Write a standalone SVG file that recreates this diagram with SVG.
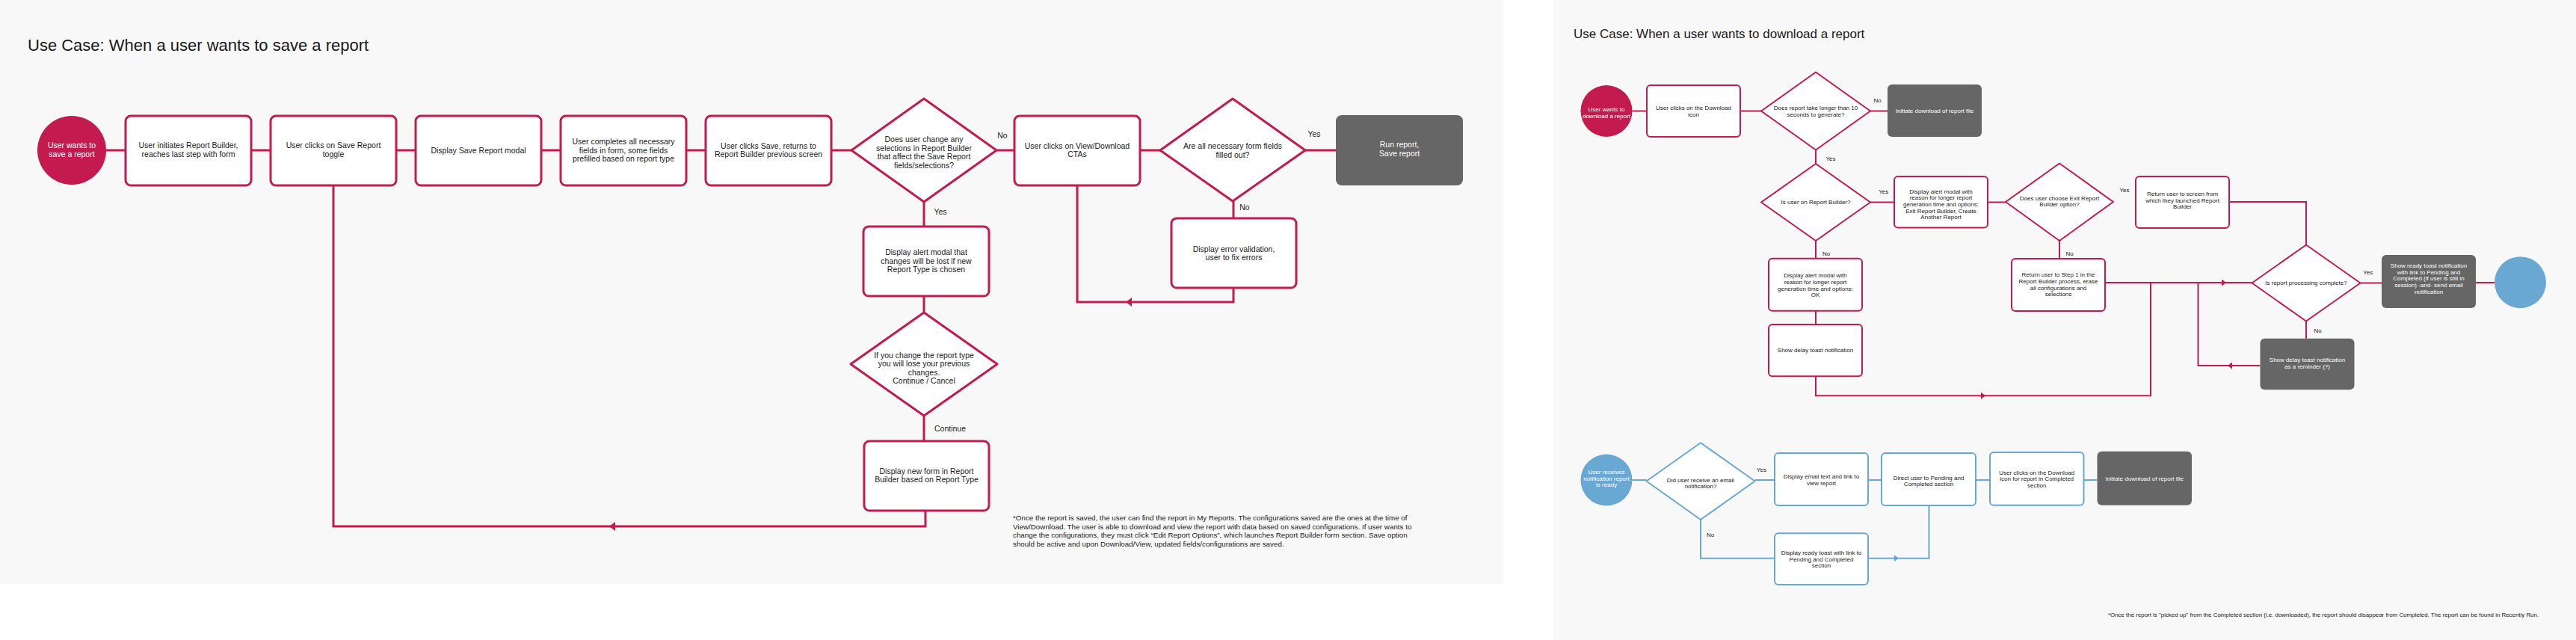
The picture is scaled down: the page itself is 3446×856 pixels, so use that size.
<svg xmlns="http://www.w3.org/2000/svg" width="3446" height="856" viewBox="0 0 3446 856">
<style>
text{font-family:"Liberation Sans",Arial,sans-serif;fill:#1a1a1a}
.t{font-size:10.5px;text-anchor:middle}
.tw{font-size:10.5px;text-anchor:middle;fill:#ffffff}
.lb{font-size:10.5px;text-anchor:middle}
.s{font-size:8px;text-anchor:middle}
.sw{font-size:8px;text-anchor:middle;fill:#ffffff}
.sl{font-size:8px;text-anchor:middle}
.bx{fill:#ffffff;stroke:#C31A4F;stroke-width:3}
.dm{fill:#ffffff;stroke:#C31A4F;stroke-width:3;stroke-linejoin:round}
.gy{fill:#666666}
.bx2{fill:#ffffff;stroke:#C31A4F;stroke-width:2}
.dm2{fill:#ffffff;stroke:#C31A4F;stroke-width:2;stroke-linejoin:round}
.bb{fill:#ffffff;stroke:#6AA8D4;stroke-width:2}
.db{fill:#ffffff;stroke:#6AA8D4;stroke-width:2;stroke-linejoin:round}
.cl{fill:none;stroke:#C31A4F;stroke-width:3}
.cr{fill:none;stroke:#C31A4F;stroke-width:2}
.cb{fill:none;stroke:#6AA8D4;stroke-width:2}
</style>
<defs>
<marker id="al" viewBox="0 0 8 12" refX="8" refY="6" markerWidth="8" markerHeight="12" markerUnits="userSpaceOnUse" orient="auto"><path d="M0,0 L8,6 L0,12 z" fill="#C31A4F"/></marker>
<marker id="ar" viewBox="0 0 8 12" refX="8" refY="6" markerWidth="6" markerHeight="9" markerUnits="userSpaceOnUse" orient="auto"><path d="M0,0 L8,6 L0,12 z" fill="#C31A4F"/></marker>
<marker id="ab" viewBox="0 0 8 12" refX="8" refY="6" markerWidth="6" markerHeight="9" markerUnits="userSpaceOnUse" orient="auto"><path d="M0,0 L8,6 L0,12 z" fill="#6AA8D4"/></marker>
</defs>
<rect x="0" y="0" width="3446" height="856" fill="#ffffff"/>
<rect x="0" y="0" width="2011" height="781" fill="#F8F8F8"/>
<rect x="2078" y="0" width="1368" height="856" fill="#F8F8F8"/>

<text x="37" y="68" style="font-size:22px">Use Case: When a user wants to save a report</text>
<text x="2105" y="51" style="font-size:17px">Use Case: When a user wants to download a report</text>

<g id="connectors">
<path class="cl" d="M142,201 H168"/>
<path class="cl" d="M336,201 H362"/>
<path class="cl" d="M530,201 H556"/>
<path class="cl" d="M724,201 H750"/>
<path class="cl" d="M918,201 H944"/>
<path class="cl" d="M1112,201 H1139"/>
<path class="cl" d="M1333,201 H1357"/>
<path class="cl" d="M1525,201 H1552"/>
<path class="cl" d="M1746,201 H1787"/>
<path class="cl" d="M1236,270 V303"/>
<path class="cl" d="M1236,396 V418"/>
<path class="cl" d="M1236,556 V590"/>
<path class="cl" d="M1238,683 V704 H815" marker-end="url(#al)"/>
<path class="cl" d="M815,704 H446 V248"/>
<path class="cl" d="M1650,269 V292"/>
<path class="cl" d="M1650,385 V404 H1506" marker-end="url(#al)"/>
<path class="cl" d="M1506,404 H1441 V248"/>

<path class="cr" d="M2183.5,148.5 H2203"/>
<path class="cr" d="M2328,148.5 H2356"/>
<path class="cr" d="M2502,148.5 H2525"/>
<path class="cr" d="M2429,200.5 V219"/>
<path class="cr" d="M2502,270.5 H2534"/>
<path class="cr" d="M2659,270.5 H2683"/>
<path class="cr" d="M2982,270 H3085 V327.5"/>
<path class="cr" d="M2429,322 V345.7"/>
<path class="cr" d="M2429,415.7 V434"/>
<path class="cr" d="M2429,503.3 V529.3 H2656" marker-end="url(#ar)"/>
<path class="cr" d="M2656,529.3 H2877 V378"/>
<path class="cr" d="M2755,322 V346"/>
<path class="cr" d="M2816,378 H2978" marker-end="url(#ar)"/>
<path class="cr" d="M2978,378 H3012.5"/>
<path class="cr" d="M3023.5,489 H2980" marker-end="url(#ar)"/>
<path class="cr" d="M2980,489 H2940.5 V378"/>
<path class="cr" d="M3085,429.5 V452.7"/>
<path class="cr" d="M3157.5,378.5 H3186"/>
<path class="cr" d="M3312,378 H3337"/>

<path class="cb" d="M2183.5,642 H2202.5"/>
<path class="cb" d="M2347.5,642 H2374"/>
<path class="cb" d="M2499,642 H2517"/>
<path class="cb" d="M2643,642 H2662"/>
<path class="cb" d="M2787.5,642 H2805.5"/>
<path class="cb" d="M2275,695 V746.7 H2374"/>
<path class="cb" d="M2499,746.7 H2540" marker-end="url(#ab)"/>
<path class="cb" d="M2540,746.7 H2580.5 V676"/>
</g>

<g id="labels">
<text class="lb" x="1341" y="185">No</text>
<text class="lb" x="1258" y="287">Yes</text>
<text class="lb" x="1758" y="183">Yes</text>
<text class="lb" x="1665" y="281">No</text>
<text x="1250" y="577" style="font-size:10.5px">Continue</text>
<text class="sl" x="2511.7" y="137">No</text>
<text class="sl" x="2449" y="215">Yes</text>
<text class="sl" x="2519.8" y="259">Yes</text>
<text class="sl" x="2842" y="257">Yes</text>
<text class="sl" x="2443" y="341.5">No</text>
<text class="sl" x="2768.5" y="341.5">No</text>
<text class="sl" x="3100.6" y="445">No</text>
<text class="sl" x="3167.7" y="367">Yes</text>
<text class="sl" x="2356.4" y="631">Yes</text>
<text class="sl" x="2288" y="717.6">No</text>
</g>

<g id="start-save">
<circle cx="96" cy="201" r="46" fill="#C31A4F"/>
<text class="tw" x="96" y="197.5">User wants to</text>
<text class="tw" x="96" y="209.5">save a report</text>
</g>
<g id="initiate-builder">
<rect class="bx" x="168" y="155" width="168" height="93" rx="7"/>
<text class="t" x="252" y="198">User initiates Report Builder,</text>
<text class="t" x="252" y="209.7">reaches last step with form</text>
</g>
<g id="save-toggle">
<rect class="bx" x="362" y="155" width="168" height="93" rx="7"/>
<text class="t" x="446" y="198">User clicks on Save Report</text>
<text class="t" x="446" y="209.7">toggle</text>
</g>
<g id="save-modal">
<rect class="bx" x="556" y="155" width="168" height="93" rx="7"/>
<text class="t" x="640" y="204.5">Display Save Report modal</text>
</g>
<g id="complete-fields">
<rect class="bx" x="750" y="155" width="168" height="93" rx="7"/>
<text class="t" x="834" y="192.8">User completes all necessary</text>
<text class="t" x="834" y="204.5">fields in form, some fields</text>
<text class="t" x="834" y="216.2">prefilled based on report type</text>
</g>
<g id="click-save">
<rect class="bx" x="944" y="155" width="168" height="93" rx="7"/>
<text class="t" x="1028" y="198.5">User clicks Save, returns to</text>
<text class="t" x="1028" y="210">Report Builder previous screen</text>
</g>
<g id="change-selections">
<polygon class="dm" points="1236,132 1333,201 1236,270 1139,201"/>
<text class="t" x="1236" y="189.8">Does user change any</text>
<text class="t" x="1236" y="201.5">selections in Report Builder</text>
<text class="t" x="1236" y="213.2">that affect the Save Report</text>
<text class="t" x="1236" y="224.8">fields/selections?</text>
</g>
<g id="alert-modal">
<rect class="bx" x="1155" y="303" width="168" height="93" rx="7"/>
<text class="t" x="1239" y="340.8">Display alert modal that</text>
<text class="t" x="1239" y="352.5">changes will be lost if new</text>
<text class="t" x="1239" y="364">Report Type is chosen</text>
</g>
<g id="change-type">
<polygon class="dm" points="1236,418 1334,487 1236,556 1138,487"/>
<text class="t" x="1236" y="478.5">If you change the report type</text>
<text class="t" x="1236" y="490">you will lose your previous</text>
<text class="t" x="1236" y="501.7">changes.</text>
<text class="t" x="1236" y="513">Continue / Cancel</text>
</g>
<g id="new-form">
<rect class="bx" x="1156" y="590" width="167" height="93" rx="7"/>
<text class="t" x="1239.5" y="633.5">Display new form in Report</text>
<text class="t" x="1239.5" y="645">Builder based on Report Type</text>
</g>
<g id="view-download">
<rect class="bx" x="1357" y="155" width="168" height="93" rx="7"/>
<text class="t" x="1441" y="198.5">User clicks on View/Download</text>
<text class="t" x="1441" y="210">CTAs</text>
</g>
<g id="fields-filled">
<polygon class="dm" points="1649,132 1746,201 1649,269 1552,201"/>
<text class="t" x="1649" y="199">Are all necessary form fields</text>
<text class="t" x="1649" y="210.8">filled out?</text>
</g>
<g id="error-validation">
<rect class="bx" x="1567" y="292" width="167" height="93" rx="7"/>
<text class="t" x="1650.5" y="336.5">Display error validation,</text>
<text class="t" x="1650.5" y="348">user to fix errors</text>
</g>
<g id="run-save">
<rect class="gy" x="1787" y="154" width="170" height="94" rx="8"/>
<text class="tw" x="1872" y="196.8">Run report,</text>
<text class="tw" x="1872" y="208.8">Save report</text>
</g>
<g id="note-save">
<text x="1355" y="696" style="font-size:9.8px">*Once the report is saved, the user can find the report in My Reports. The configurations saved are the ones at the time of</text>
<text x="1355" y="707.7" style="font-size:9.8px">View/Download. The user is able to download and view the report with data based on saved configurations. If user wants to</text>
<text x="1355" y="719.4" style="font-size:9.8px">change the configurations, they must click “Edit Report Options”, which launches Report Builder form section. Save option</text>
<text x="1355" y="731.1" style="font-size:9.8px">should be active and upon Download/View, updated fields/configurations are saved.</text>
</g>

<g id="start-download">
<circle cx="2149" cy="148.5" r="34.5" fill="#C31A4F"/>
<text class="sw" x="2149" y="148.9">User wants to</text>
<text class="sw" x="2149" y="157.6">download a report</text>
</g>
<g id="click-download">
<rect class="bx2" x="2203" y="114" width="125" height="69" rx="5"/>
<text class="s" x="2265.5" y="147.2">User clicks on the Download</text>
<text class="s" x="2265.5" y="156.2">icon</text>
</g>
<g id="longer-10s">
<polygon class="dm2" points="2429,96.5 2502,148.5 2429,200.5 2356,148.5"/>
<text class="s" x="2429" y="147.2">Does report take longer than 10</text>
<text class="s" x="2429" y="156.2">seconds to generate?</text>
</g>
<g id="initiate-download-1">
<rect class="gy" x="2525" y="113" width="126" height="70" rx="6"/>
<text class="sw" x="2588" y="151">Initiate download of report file</text>
</g>
<g id="on-builder">
<polygon class="dm2" points="2429,219 2502,270.5 2429,322 2356,270.5"/>
<text class="s" x="2429" y="273.3">Is user on Report Builder?</text>
</g>
<g id="alert-exit-create">
<rect class="bx2" x="2534" y="236" width="125" height="68.5" rx="5"/>
<text class="s" x="2596.5" y="258.5">Display alert modal with</text>
<text class="s" x="2596.5" y="267.2">reason for longer report</text>
<text class="s" x="2596.5" y="275.8">generation time and options:</text>
<text class="s" x="2596.5" y="284.5">Exit Report Builder, Create</text>
<text class="s" x="2596.5" y="293.2">Another Report</text>
</g>
<g id="choose-exit">
<polygon class="dm2" points="2755,218.5 2827,270 2755,322 2683,270"/>
<text class="s" x="2755" y="267.8">Does user choose Exit Report</text>
<text class="s" x="2755" y="276.2">Builder option?</text>
</g>
<g id="return-screen">
<rect class="bx2" x="2857" y="236" width="125" height="69" rx="5"/>
<text class="s" x="2919.5" y="261.8">Return user to screen from</text>
<text class="s" x="2919.5" y="270.5">which they launched Report</text>
<text class="s" x="2919.5" y="279.2">Builder</text>
</g>
<g id="alert-ok">
<rect class="bx2" x="2366" y="345.7" width="125" height="70" rx="5"/>
<text class="s" x="2428.5" y="371.2">Display alert modal with</text>
<text class="s" x="2428.5" y="379.9">reason for longer report</text>
<text class="s" x="2428.5" y="388.6">generation time and options:</text>
<text class="s" x="2428.5" y="397.2">OK</text>
</g>
<g id="delay-toast">
<rect class="bx2" x="2366" y="434" width="125" height="69.3" rx="5"/>
<text class="s" x="2428.5" y="470.6">Show delay toast notification</text>
</g>
<g id="return-step1">
<rect class="bx2" x="2691" y="346" width="125" height="70" rx="5"/>
<text class="s" x="2753.5" y="370.2">Return user to Step 1 in the</text>
<text class="s" x="2753.5" y="378.9">Report Builder process, erase</text>
<text class="s" x="2753.5" y="387.6">all configurations and</text>
<text class="s" x="2753.5" y="396.2">selections</text>
</g>
<g id="processing-complete">
<polygon class="dm2" points="3085,327.5 3157.5,378.5 3085,429.5 3012.5,378.5"/>
<text class="s" x="3085" y="381.3">Is report processing complete?</text>
</g>
<g id="delay-reminder">
<rect class="gy" x="3023.5" y="452.7" width="126" height="68.5" rx="6"/>
<text class="sw" x="3086.5" y="483.9">Show delay toast notification</text>
<text class="sw" x="3086.5" y="492.6">as a reminder (?)</text>
</g>
<g id="ready-toast">
<rect class="gy" x="3186" y="341" width="126" height="71" rx="6"/>
<text class="sw" x="3249" y="357.9">Show ready toast notification</text>
<text class="sw" x="3249" y="366.6">with link to Pending and</text>
<text class="sw" x="3249" y="375.2">Completed (if user is still in</text>
<text class="sw" x="3249" y="383.9">session) -and- send email</text>
<text class="sw" x="3249" y="392.6">notification</text>
</g>
<g id="end-blue">
<circle cx="3371.5" cy="377.7" r="34.5" fill="#6AA8D4"/>
</g>

<g id="start-notification">
<circle cx="2149" cy="642" r="34.5" fill="#6AA8D4"/>
<text class="sw" x="2149" y="633.9">User receives</text>
<text class="sw" x="2149" y="642.6">notification report</text>
<text class="sw" x="2149" y="651.2">is ready</text>
</g>
<g id="email-received">
<polygon class="db" points="2275,592.3 2347.5,643.5 2275,695 2202.5,643.5"/>
<text class="s" x="2275" y="644.6">Did user receive an email</text>
<text class="s" x="2275" y="652.9">notification?</text>
</g>
<g id="email-text">
<rect class="bb" x="2374" y="606" width="125" height="70" rx="5"/>
<text class="s" x="2436.5" y="639.9">Display email text and link to</text>
<text class="s" x="2436.5" y="648.6">view report</text>
</g>
<g id="direct-pending">
<rect class="bb" x="2517" y="606" width="126" height="70" rx="5"/>
<text class="s" x="2580" y="641.6">Direct user to Pending and</text>
<text class="s" x="2580" y="650.2">Completed section</text>
</g>
<g id="click-completed">
<rect class="bb" x="2662" y="605" width="125.5" height="70.7" rx="5"/>
<text class="s" x="2724.7" y="634.6">User clicks on the Download</text>
<text class="s" x="2724.7" y="643.2">icon for report in Completed</text>
<text class="s" x="2724.7" y="651.9">section</text>
</g>
<g id="initiate-download-2">
<rect class="gy" x="2805.5" y="603.7" width="126.5" height="72" rx="6"/>
<text class="sw" x="2868.7" y="642.9">Initiate download of report file</text>
</g>
<g id="ready-toast-link">
<rect class="bb" x="2374" y="713.3" width="125" height="68.7" rx="5"/>
<text class="s" x="2436.5" y="741.9">Display ready toast with link to</text>
<text class="s" x="2436.5" y="750.6">Pending and Completed</text>
<text class="s" x="2436.5" y="759.2">section</text>
</g>
<g id="note-download">
<text x="2820" y="824.5" style="font-size:7.9px">*Once the report is "picked up" from the Completed section (i.e. downloaded), the report should disappear from Completed. The report can be found in Recently Run.</text>
</g>
</svg>
